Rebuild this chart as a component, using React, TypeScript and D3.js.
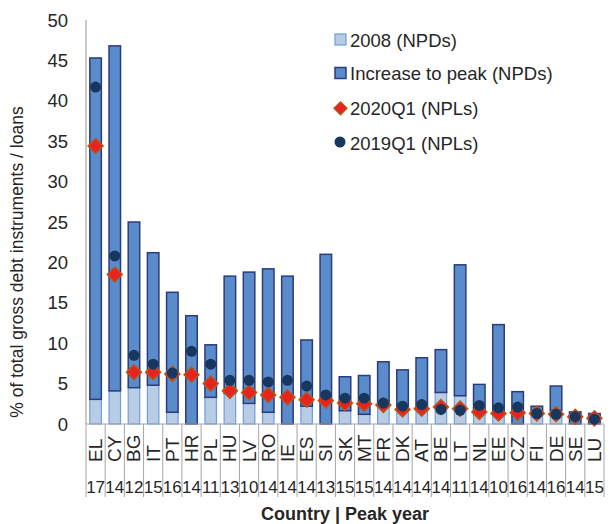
import React from "react";
import * as d3 from "d3";

const countries = ["EL","CY","BG","IT","PT","HR","PL","HU","LV","RO","IE","ES","SI","SK","MT","FR","DK","AT","BE","LT","NL","EE","CZ","FI","DE","SE","LU"];
const peakYears = ["17","14","12","15","16","14","11","13","10","14","14","14","13","15","15","14","14","14","14","11","14","10","16","14","16","14","15"];
const npd2008 = [3.05,4.1,4.5,4.8,1.45,0,3.3,3.8,2.55,1.45,0,2.2,0,1.65,1.2,2.5,1.7,1.7,3.9,3.5,1.7,1.5,0,1.3,1.7,0,0];
const increaseToPeak = [42.25,42.7,20.5,16.4,14.85,13.4,6.5,14.5,16.25,17.75,18.3,8.2,21.0,4.2,4.8,5.2,5.0,6.5,5.3,16.2,3.2,10.8,4.0,0.9,3.0,1.5,1.3];
const npl2020Q1 = [34.4,18.5,6.4,6.4,6.2,6.1,5.0,4.1,3.9,3.6,3.3,3.0,2.9,2.6,2.5,2.35,1.8,1.9,2.1,1.9,1.5,1.3,1.4,1.3,1.2,0.9,0.7];
const npl2019Q1 = [41.7,20.8,8.5,7.4,6.3,9.0,7.4,5.4,5.4,5.2,5.4,4.7,3.6,3.2,3.2,2.6,2.2,2.4,1.8,1.7,2.3,2.0,2.1,1.3,1.2,0.9,0.6];
const yTicks = [0,5,10,15,20,25,30,35,40,45,50];
const legendLabels = ["2008 (NPDs)","Increase to peak (NPDs)","2020Q1 (NPLs)","2019Q1 (NPLs)"];

const FONT = "'Liberation Sans', Arial, sans-serif";
const C_LIGHT = "#B8CCE6";
const C_LIGHT_STROKE = "#6E9FD8";
const C_DARK = "#5A8CCB";
const C_DARK_STROKE = "#2C3B7C";
const C_RED = "#E8221C";
const C_RED_STROKE = "#B5561E";
const C_NAVY = "#17375E";
const TEXT = "#262626";
const AXIS = "#A6A6A6";

export default function App() {
  const left = 86, right = 604, top = 20, bottom = 424;
  const x = d3.scaleBand<string>().domain(countries).range([left, right]).paddingInner(0.4).paddingOuter(0.2);
  const y = d3.scaleLinear().domain([0, 50]).range([bottom, top]);
  const step = x.step();
  const bw = x.bandwidth();
  const diamondPath = (cx: number, cy: number, r: number) =>
    `M${cx},${cy - r}L${cx + r},${cy}L${cx},${cy + r}L${cx - r},${cy}Z`;

  return (
    <svg width={610} height={524} style={{ position: "absolute", left: 0, top: 0, background: "#fff" }} fontFamily={FONT}>
      {yTicks.map((t) => (
        <text key={t} x={68} y={y(t)} dy="0.36em" textAnchor="end" fontSize={18.5} fill={TEXT}>{t}</text>
      ))}
      <text transform={`translate(23,262) rotate(-90)`} textAnchor="middle" fontSize={17.5} fill={TEXT}>
        % of total gross debt instruments / loans
      </text>
      {countries.map((c, i) => {
        const x0 = x(c)!;
        const b = npd2008[i];
        const t = b + increaseToPeak[i];
        return (
          <g key={c}>
            {b > 0 && (
              <rect x={x0} y={y(b)} width={bw} height={y(0) - y(b)} fill={C_LIGHT} stroke={C_LIGHT_STROKE} strokeWidth={1.2} />
            )}
            <rect x={x0} y={y(t)} width={bw} height={y(b) - y(t)} fill={C_DARK} stroke={C_DARK_STROKE} strokeWidth={1.5} />
          </g>
        );
      })}
      <line x1={left} x2={left} y1={top} y2={bottom} stroke={AXIS} strokeWidth={1.2} />
      <line x1={left} x2={right} y1={bottom} y2={bottom} stroke={AXIS} strokeWidth={1.2} />
      {d3.range(countries.length + 1).map((k) => (
        <line key={k} x1={left + k * step} x2={left + k * step} y1={bottom} y2={497} stroke={AXIS} strokeWidth={1} />
      ))}
      {countries.map((c, i) => (
        <path key={"d" + c} d={diamondPath(x(c)! + bw / 2, y(npl2020Q1[i]), 7.5)} fill={C_RED} stroke={C_RED_STROKE} strokeWidth={1.5} />
      ))}
      {countries.map((c, i) => (
        <circle key={"c" + c} cx={x(c)! + bw / 2} cy={y(npl2019Q1[i])} r={5.5} fill={C_NAVY} />
      ))}
      {countries.map((c) => (
        <text key={"l" + c} transform={`translate(${x(c)! + bw / 2 + 6.5},462) rotate(-90)`} fontSize={19} fill={TEXT}>{c}</text>
      ))}
      {countries.map((c, i) => (
        <text key={"y" + c} x={x(c)! + bw / 2} y={493} textAnchor="middle" fontSize={17} fill={TEXT}>{peakYears[i]}</text>
      ))}
      <text x={(left + right) / 2} y={520} textAnchor="middle" fontSize={18} fontWeight="bold" fill={TEXT}>Country | Peak year</text>
      <g>
        <rect x={335} y={34} width={11} height={11} fill={C_LIGHT} stroke={C_LIGHT_STROKE} strokeWidth={1.2} />
        <text x={350} y={40} dy="0.36em" fontSize={18.5} fill={TEXT}>{legendLabels[0]}</text>
        <rect x={335} y={67.5} width={11} height={11} fill={C_DARK} stroke={C_DARK_STROKE} strokeWidth={1.5} />
        <text x={350} y={73.3} dy="0.36em" fontSize={18.5} fill={TEXT}>{legendLabels[1]}</text>
        <path d={diamondPath(340.5, 108.3, 6.5)} fill={C_RED} stroke={C_RED_STROKE} strokeWidth={1.3} />
        <text x={350} y={108.3} dy="0.36em" fontSize={18.5} fill={TEXT}>{legendLabels[2]}</text>
        <circle cx={340} cy={142} r={5.5} fill={C_NAVY} />
        <text x={350} y={143.3} dy="0.36em" fontSize={18.5} fill={TEXT}>{legendLabels[3]}</text>
      </g>
    </svg>
  );
}
